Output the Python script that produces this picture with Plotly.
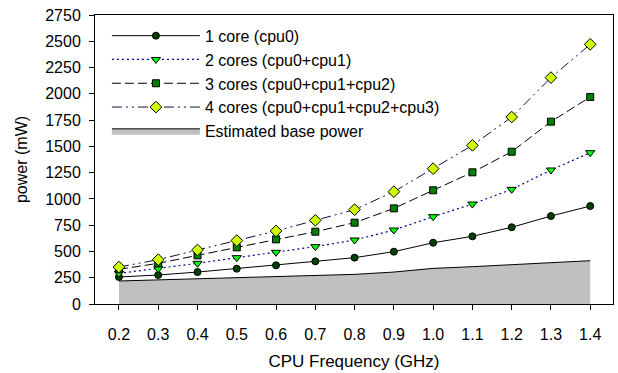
import plotly.graph_objects as go

freq = [0.2, 0.3, 0.4, 0.5, 0.6, 0.7, 0.8, 0.9, 1.0, 1.1, 1.2, 1.3, 1.4]
core1 = [257, 276, 304, 336, 368, 406, 441, 498, 583, 644, 730, 837, 932]
core2 = [292, 336, 387, 441, 492, 546, 609, 704, 831, 951, 1091, 1275, 1440]
core3 = [330, 387, 463, 539, 615, 688, 774, 910, 1082, 1253, 1449, 1735, 1970]
core4 = [352, 422, 514, 603, 695, 796, 898, 1069, 1288, 1510, 1779, 2154, 2471]
base = [219, 230, 240, 251, 261, 272, 282, 304, 339, 355, 374, 393, 412]
names = ["1 core (cpu0)", "2 cores (cpu0+cpu1)", "3 cores (cpu0+cpu1+cpu2)",
         "4 cores (cpu0+cpu1+cpu2+cpu3)", "Estimated base power"]
yticks = [0, 250, 500, 750, 1000, 1250, 1500, 1750, 2000, 2250, 2500, 2750]

FONT = "Liberation Sans, Arial, sans-serif"

fig = go.Figure()
fig.add_trace(go.Scatter(
    x=freq, y=core1, name=names[0], mode="lines+markers",
    line=dict(color="black", width=1, dash="solid"),
    marker=dict(symbol="circle", size=7, color="#004000", line=dict(color="black", width=1))))
fig.add_trace(go.Scatter(
    x=freq, y=core2, name=names[1], mode="lines+markers",
    line=dict(color="#000090", width=1.2, dash="2px,3px"),
    marker=dict(symbol="triangle-down", size=8, color="#00ff00", line=dict(color="black", width=1))))
fig.add_trace(go.Scatter(
    x=freq, y=core3, name=names[2], mode="lines+markers",
    line=dict(color="black", width=1, dash="9px,4px"),
    marker=dict(symbol="square", size=7, color="#008000", line=dict(color="black", width=1))))
fig.add_trace(go.Scatter(
    x=freq, y=core4, name=names[3], mode="lines+markers",
    line=dict(color="#101040", width=1, dash="10px,4px,2px,4px,2px,4px"),
    marker=dict(symbol="diamond", size=9, color="#ccff00", line=dict(color="black", width=1))))
fig.add_trace(go.Scatter(
    x=freq, y=base, name=names[4], mode="lines", fill="tozeroy",
    fillcolor="#c0c0c0", line=dict(color="black", width=1)))

fig.update_layout(
    width=618, height=373,
    margin=dict(l=95, r=5, t=15, b=69),
    paper_bgcolor="white", plot_bgcolor="white",
    font=dict(family=FONT, size=16, color="black"),
    showlegend=True,
    legend=dict(x=0.023, y=0.987, xanchor="left", yanchor="top",
                bgcolor="rgba(0,0,0,0)", font=dict(size=16, family=FONT),
                itemwidth=88, tracegroupgap=0, traceorder="normal"),
    xaxis=dict(range=[0.139, 1.458], tickvals=freq, tickformat=".1f",
               ticks="outside", ticklen=5, tickcolor="black",
               showline=True, linecolor="black", linewidth=1, mirror=True,
               showgrid=False, zeroline=False, ticklabelstandoff=11,
               title=dict(text="CPU Frequency (GHz)", font=dict(size=17), standoff=12),
               tickfont=dict(size=16)),
    yaxis=dict(range=[0, 2750], tickvals=yticks,
               ticks="outside", ticklen=5, tickcolor="black",
               showline=True, linecolor="black", linewidth=1, mirror=True,
               showgrid=False, zeroline=False, ticklabelstandoff=5,
               title=dict(text="power (mW)", font=dict(size=16), standoff=13),
               tickfont=dict(size=16)),
)

fig.write_html("out.html")
